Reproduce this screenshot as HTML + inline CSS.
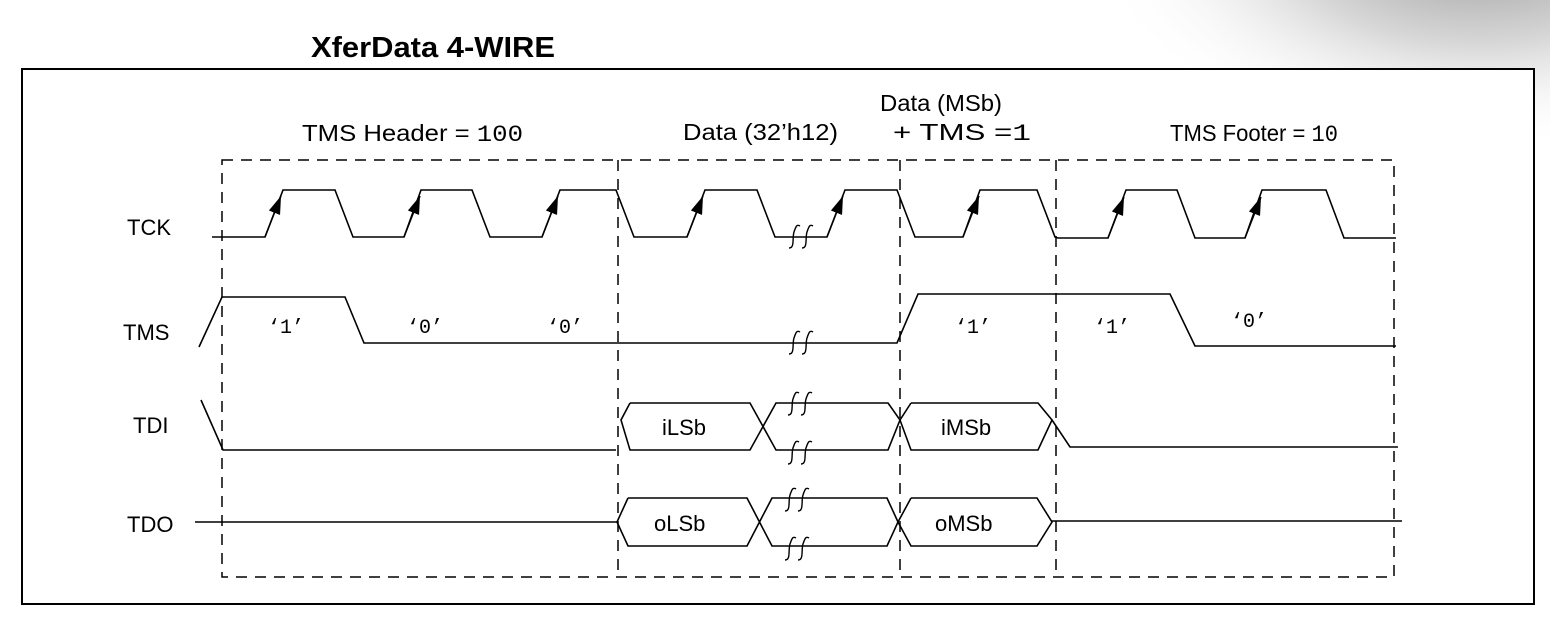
<!DOCTYPE html>
<html><head><meta charset="utf-8"><style>
html,body{margin:0;padding:0;background:#fff;}
svg{display:block;}
text{font-family:"Liberation Sans",sans-serif;fill:#000;}
.m{font-family:"Liberation Mono",monospace;}
</style></head><body>
<svg width="1550" height="622" viewBox="0 0 1550 622" xmlns="http://www.w3.org/2000/svg">
<defs>
<radialGradient id="sh" cx="1480" cy="-60" r="300" gradientUnits="userSpaceOnUse" gradientTransform="translate(1480 -60) scale(1.3 0.7) translate(-1480 60)">
<stop offset="0" stop-color="#9a9a9a"/><stop offset="0.5" stop-color="#d8d8d8"/><stop offset="1" stop-color="#fff" stop-opacity="0"/>
</radialGradient>
<marker id="ar" viewBox="0 0 18 12" refX="18" refY="6" markerWidth="18" markerHeight="12" orient="auto" markerUnits="userSpaceOnUse"><path d="M0,0 L18,6 L0,12 z" fill="#000"/></marker>
</defs>
<rect x="0" y="0" width="1550" height="622" fill="#fff"/>
<rect x="1100" y="0" width="450" height="160" fill="url(#sh)"/>
<rect x="22" y="69" width="1512" height="535" fill="#fff" stroke="#000" stroke-width="2"/>
<text x="311" y="57" font-size="29" font-weight="bold" textLength="244" lengthAdjust="spacingAndGlyphs">XferData 4-WIRE</text>

<g font-size="23">
<text x="302" y="141" textLength="221" lengthAdjust="spacingAndGlyphs">TMS Header = <tspan class="m">100</tspan></text>
<text x="683" y="140" textLength="155" lengthAdjust="spacingAndGlyphs">Data (32’h12)</text>
<text x="880" y="111" textLength="122" lengthAdjust="spacingAndGlyphs">Data (MSb)</text>
<text x="893" y="140" textLength="138" lengthAdjust="spacingAndGlyphs">+ TMS =<tspan class="m">1</tspan></text>
<text x="1170" y="141" textLength="168" lengthAdjust="spacingAndGlyphs">TMS Footer = <tspan class="m">10</tspan></text>
</g>

<g font-size="22">
<text x="127" y="235">TCK</text>
<text x="123" y="340">TMS</text>
<text x="133" y="433">TDI</text>
<text x="127" y="532">TDO</text>
</g>

<g stroke="#000" stroke-width="1.5" fill="none" stroke-dasharray="11,8">
<rect x="222" y="160" width="1172" height="417"/>
<line x1="618" y1="160" x2="618" y2="577"/>
<line x1="900" y1="160" x2="900" y2="577"/>
<line x1="1056" y1="160" x2="1056" y2="577"/>
</g>

<g stroke="#000" stroke-width="1.6" fill="none">
<polyline points="212,237 265,237 283,190 335,190 353,237 404,237 421,190 472,190 490,237 542,237 560,190 616,190 634,237 687,237 705,190 757,190 775,237 827,237 845,190 897,190 915,237 963,237 980,190 1037,190 1055,237 1058,238 1108,238 1126,190 1177,190 1195,238 1245,238 1262,190 1326,190 1344,238 1396,238"/>
<polyline points="199,347 222,297 345,297 364,343 897,343 918,294 1170,294 1195,346 1396,346"/>
<polyline points="201,400 223,450 616,450"/>
<polyline points="1052,420 1070,447 1398,447"/>
<polyline points="630,403 750,403 776,450 888,450 900,420 888,403 776,403 750,450 630,450 621,420 630,403"/>
<polyline points="911,403 1038,403 1052,420 1038,450 911,450 900,420 911,403"/>
<line x1="195" y1="522" x2="617" y2="522"/>
<line x1="1052" y1="521" x2="1402" y2="521"/>
<polyline points="628,498 747,498 772,546 887,546 898,522 887,498 772,498 747,546 628,546 617,522 628,498"/>
<polyline points="911,498 1037,498 1052,522 1037,546 911,546 898,522 911,498"/>
</g>

<g stroke="#000" stroke-width="1.5" fill="none">
<line x1="265" y1="237" x2="281" y2="196" marker-end="url(#ar)"/>
<line x1="404" y1="237" x2="420" y2="196" marker-end="url(#ar)"/>
<line x1="542" y1="237" x2="558" y2="196" marker-end="url(#ar)"/>
<line x1="687" y1="237" x2="703" y2="196" marker-end="url(#ar)"/>
<line x1="827" y1="237" x2="843" y2="196" marker-end="url(#ar)"/>
<line x1="963" y1="237" x2="979" y2="196" marker-end="url(#ar)"/>
<line x1="1108" y1="238" x2="1124" y2="197" marker-end="url(#ar)"/>
<line x1="1245" y1="238" x2="1261" y2="197" marker-end="url(#ar)"/>
</g>

<g stroke="#000" stroke-width="1.4" fill="none">
<path id="b" d="M789,248 C795,248 792,238 794,232 C796,226 797,224 800,226 M802,248 C808,248 805,238 807,232 C809,226 810,224 813,226"/>
<use href="#b" transform="translate(0,106)"/>
<use href="#b" transform="translate(-1,167)"/>
<use href="#b" transform="translate(-1,216)"/>
<use href="#b" transform="translate(-4,263)"/>
<use href="#b" transform="translate(-4,312)"/>
</g>

<g font-size="20" class="m">
<text x="268" y="333" class="m">‘1’</text>
<text x="407" y="333" class="m">‘0’</text>
<text x="547" y="333" class="m">‘0’</text>
<text x="955" y="333" class="m">‘1’</text>
<text x="1094" y="333" class="m">‘1’</text>
<text x="1231" y="327" class="m">‘0’</text>
</g>
<g font-size="22">
<text x="662" y="435">iLSb</text>
<text x="941" y="435">iMSb</text>
<text x="654" y="531">oLSb</text>
<text x="935" y="531">oMSb</text>
</g>
</svg>
</body></html>
